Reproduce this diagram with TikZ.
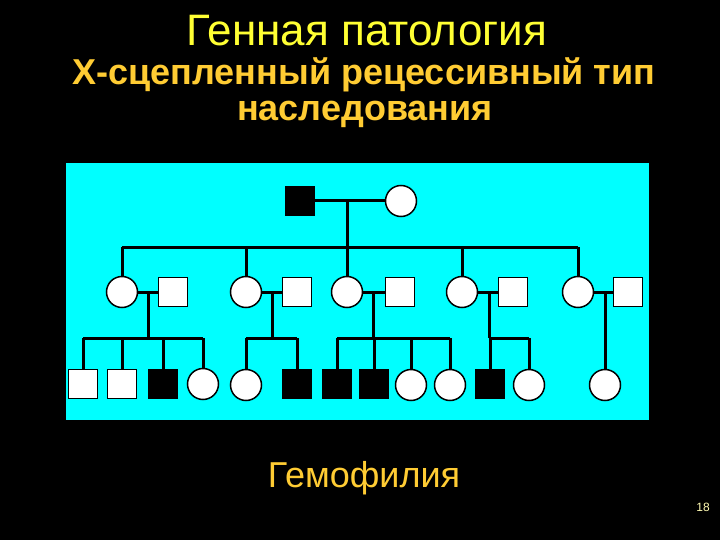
\documentclass[tikz,border=0pt]{standalone}
\usepackage{fontspec}
\setmainfont{Liberation Sans}
\usetikzlibrary{positioning,calc}
\definecolor{titleYellow}{RGB}{255,255,51}
\definecolor{subGold}{RGB}{255,204,51}
\definecolor{pedCyan}{RGB}{0,255,255}
\tikzset{
  male/.style     = {draw, fill=white, line width=1.5pt, minimum size=29pt,
                     inner sep=0pt},
  female/.style   = {draw, circle, fill=white, line width=1.5pt,
                     minimum size=31pt, inner sep=0pt},
  affected/.style = {fill=black},
  kin/.style      = {line width=3pt}
}

\begin{document}
\begin{tikzpicture}[x=1pt, y=-1pt]
  \fill[black] (0,0) rectangle (720,540);
  \useasboundingbox (0,0) rectangle (720,540);

  \node[text=titleYellow, font=\fontsize{44}{48}\selectfont, anchor=base] (title) at (367,46) {Генная патология};
  \node[text=subGold, font=\bfseries\fontsize{36}{36}\selectfont, anchor=base] (subtitle) at (364,85)
    {Х-сцепленный рецессивный тип};
  \node[text=subGold, font=\bfseries\fontsize{36}{36}\selectfont, anchor=base] (subtitle2) at (365,121)
    {наследования};

  \draw[fill=pedCyan, draw=black] (65,162) rectangle (649,420);

  % generation I
  \node[male, affected] (gf) at (300,201) {};
  \node[female] (gm) at (401,201) {};
  \coordinate (m0) at (347,201);
  \coordinate (s0) at (347,247);
  \draw[kin] (gf) -- (gm);
  \draw[kin] (m0) -- (s0);

  % generation II
  \node[female] (d1) at (122,292) {};
  \node[male]   (h1) at (173,292) {};
  \node[female] (d2) at (246,292) {};
  \node[male]   (h2) at (297,292) {};
  \node[female] (d3) at (347,292) {};
  \node[male]   (h3) at (400,292) {};
  \node[female] (d4) at (462,292) {};
  \node[male]   (h4) at (513,292) {};
  \node[female] (d5) at (578,292) {};
  \node[male]   (h5) at (628,292) {};
  \draw[kin] (d1 |- s0) -- (d5 |- s0);
  \foreach \i in {1,...,5}{
    \draw[kin] (d\i) -- (d\i |- s0);
    \draw[kin] (d\i) -- (h\i);
  }

  % generation III
  \coordinate (m1) at (148,292); \coordinate (s1) at (148,338);
  \coordinate (m2) at (272,292); \coordinate (s2) at (272,338);
  \coordinate (m3) at (373,292); \coordinate (s3) at (373,338);
  \coordinate (m4) at (489,292); \coordinate (s4) at (489,338);
  \coordinate (m5) at (605,292);

  \node[male]           (c11) at (83,384) {};
  \node[male]           (c12) at (122,384) {};
  \node[male, affected] (c13) at (163,384) {};
  \node[female]         (c14) at (203,384) {};
  \node[female]         (c21) at (246,385) {};
  \node[male, affected] (c22) at (297,384) {};
  \node[male, affected] (c31) at (337,384) {};
  \node[male, affected] (c32) at (374,384) {};
  \node[female]         (c33) at (411,385) {};
  \node[female]         (c34) at (450,385) {};
  \node[male, affected] (c41) at (490,384) {};
  \node[female]         (c42) at (529,385) {};
  \node[female]         (c51) at (605,385) {};

  \foreach \i in {1,...,4} \draw[kin] (m\i) -- (s\i);
  \draw[kin] (c11 |- s1) -- (c14 |- s1);
  \draw[kin] (c21 |- s2) -- (c22 |- s2);
  \draw[kin] (c31 |- s3) -- (c34 |- s3);
  \draw[kin] (c41 |- s4) -- (c42 |- s4);
  \foreach \c/\s in {c11/s1, c12/s1, c13/s1, c14/s1, c21/s2, c22/s2,
                     c31/s3, c32/s3, c33/s3, c34/s3, c41/s4, c42/s4}
    \draw[kin] (\c) -- (\c |- \s);
  \draw[kin] (m5) -- (c51);

  \node[text=subGold, font=\fontsize{36}{40}\selectfont, anchor=base] (disease) at (364,487) {Гемофилия};
  \node[text=yellow!30, font=\fontsize{12}{14}\selectfont] (page) at (703,507) {18};
\end{tikzpicture}
\end{document}
